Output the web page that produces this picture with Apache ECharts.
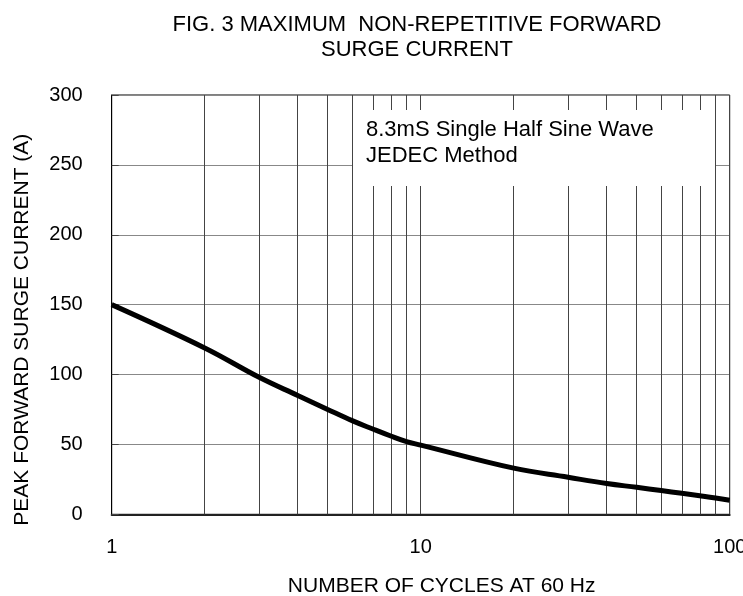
<!DOCTYPE html>
<html>
<head>
<meta charset="utf-8">
<script src="https://cdn.jsdelivr.net/npm/echarts@6/dist/echarts.min.js"></script>
<style>
html,body{margin:0;padding:0;background:#fff;}
#chart{width:743px;height:596px;}
</style>
</head>
<body>
<div id="chart"></div>
<script>
// Data
const cycles = [1, 2, 3, 4, 5, 6, 7, 8, 9, 10, 20, 30, 40, 50, 60, 70, 80, 90, 100];
const surgeCurrent = [150, 119, 98, 85, 75, 67, 61, 56, 52, 49.5, 33, 26.5, 22, 19.3, 17, 15, 13.3, 11.7, 10];
const minorGridX = [2, 3, 4, 5, 6, 7, 8, 9, 20, 30, 40, 50, 60, 70, 80, 90];
const yTicks = [0, 50, 100, 150, 200, 250, 300];
const titleLines = ['FIG. 3 MAXIMUM  NON-REPETITIVE FORWARD', 'SURGE CURRENT'];
const noteLines = ['8.3mS Single Half Sine Wave', 'JEDEC Method'];
const xName = 'NUMBER OF CYCLES AT 60 Hz';
const yName = 'PEAK FORWARD SURGE CURRENT (A)';

const FONT = '"Liberation Sans", Arial, sans-serif';
const chart = echarts.init(document.getElementById('chart'), null, {renderer: 'canvas'});

const option = {
  animation: false,
  backgroundColor: '#fff',
  title: {
    text: titleLines.join('\n'),
    left: 417,
    top: 12,
    padding: 0,
    textAlign: 'center',
    textStyle: {fontFamily: FONT, fontSize: 22, fontWeight: 'normal', color: '#000', lineHeight: 25}
  },
  grid: {
    left: 111.7, right: 13.3, top: 95, bottom: 81.7,
    outerBoundsMode: 'none',
    containLabel: false,
    show: true, borderColor: '#000', borderWidth: 1, backgroundColor: 'transparent'
  },
  xAxis: {
    type: 'log', logBase: 10, min: 1, max: 100,
    name: xName, nameLocation: 'middle', nameGap: 61,
    nameTextStyle: {fontFamily: FONT, fontSize: 21, color: '#000', padding: [0, 0, 0, 42]},
    axisLine: {show: true, lineStyle: {color: '#222', width: 2}},
    axisTick: {show: false},
    axisLabel: {fontFamily: FONT, fontSize: 20, color: '#000', margin: 23},
    splitLine: {show: true, lineStyle: {color: '#444', width: 1}}
  },
  yAxis: {
    type: 'value', min: yTicks[0], max: yTicks[yTicks.length - 1], interval: yTicks[1] - yTicks[0],
    name: yName, nameLocation: 'middle', nameGap: 79,
    nameTextStyle: {fontFamily: FONT, fontSize: 21, color: '#000', padding: [0, 50, 0, 0]},
    axisLine: {show: true, lineStyle: {color: '#000', width: 1}},
    axisTick: {show: true, inside: true, length: 7, lineStyle: {color: '#444'}},
    axisLabel: {fontFamily: FONT, fontSize: 20, color: '#000', margin: 29},
    splitLine: {show: true, lineStyle: {color: '#888', width: 1}}
  },
  series: [{
    type: 'line',
    data: cycles.map((c, i) => [c, surgeCurrent[i]]),
    smooth: 0.4,
    showSymbol: false,
    lineStyle: {color: '#000', width: 5},
    z: 5,
    markLine: {
      silent: true,
      symbol: ['none', 'none'],
      label: {show: false},
      lineStyle: {type: 'solid', color: '#444', width: 1},
      z: 1,
      data: minorGridX.map(v => ({xAxis: v}))
    }
  }],
  graphic: [{
    type: 'group',
    z: 100,
    children: [
      {type: 'rect', shape: {x: 353, y: 110, width: 362, height: 76}, style: {fill: '#fff'}, z: 100},
      {type: 'text', x: 366, y: 117, z: 101,
       style: {text: noteLines.join('\n'), font: '22px ' + FONT, fill: '#000', lineHeight: 26}}
    ]
  }]
};
chart.setOption(option);
</script>
</body>
</html>
